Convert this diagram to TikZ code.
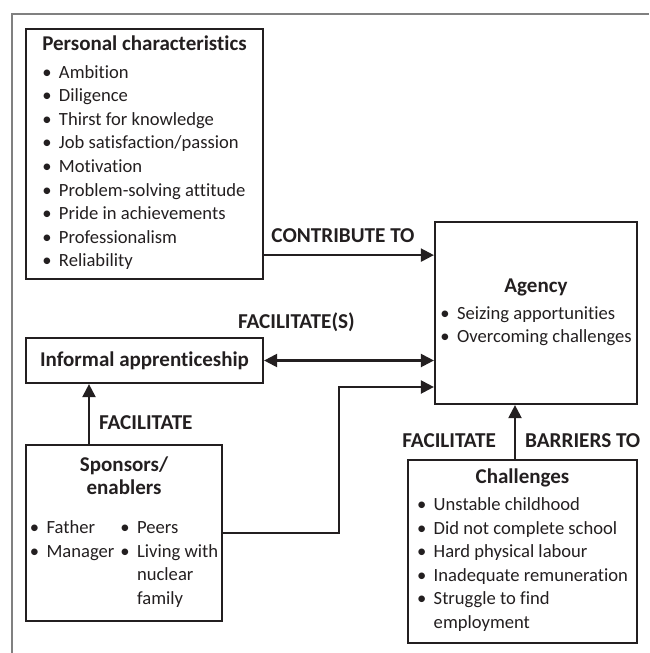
\documentclass[tikz,border=0pt]{standalone}
\usepackage{fontspec}
\setmainfont{Carlito}[Ligatures=NoCommon]
\usepackage{tikz}
\usetikzlibrary{arrows.meta,positioning}
\usepackage{xcolor}
\definecolor{inkdark}{RGB}{35,31,32}
\definecolor{framegray}{RGB}{128,128,128}
\tikzstyle{arrow} = [line width=2.2pt,-{Triangle[length=13pt,width=13pt]},color=inkdark]
\tikzstyle{darrow} = [arrow,{Triangle[length=13pt,width=13pt]}-{Triangle[length=13pt,width=13pt]}]
\tikzstyle{factor} = [rectangle, draw=inkdark, line width=2.2pt, inner sep=0pt, text centered]
\tikzstyle{lbl} = [font=\fontsize{21.2}{23.6}\selectfont\bfseries, inner sep=0pt]
\newcommand{\bul}{\textbullet\hspace{0.4em}}
\newcommand{\hang}{\phantom{\textbullet\hspace{0.4em}}}
\newcommand{\head}[1]{{\fontsize{21}{23.6}\selectfont\bfseries #1}}

\begin{document}
\begin{tikzpicture}[x=1pt, y=-1pt, text=inkdark, font=\fontsize{18.6}{23.6}\selectfont]
\useasboundingbox (0,0) rectangle (649,653);
% Frame
\draw[framegray, line width=1.5pt] (12,653) -- (12,14) -- (649,14);

% Factors as nodes
\node (pc) [factor, minimum width=237pt, minimum height=250pt] at (144.5,154) {
\begin{tabular}{@{}l@{}}
\multicolumn{1}{@{}c@{}}{\head{Personal characteristics}}\\[4pt]
\bul Ambition\\
\bul Diligence\\
\bul Thirst for knowledge\\
\bul Job satisfaction/passion\\
\bul Motivation\\
\bul Problem-solving attitude\\
\bul Pride in achievements\\
\bul Professionalism\\
\bul Reliability
\end{tabular}
};

\node (ag) [factor, minimum width=202pt, minimum height=182pt] at (536,313) {
\begin{tabular}{@{}l@{}}
\multicolumn{1}{@{}c@{}}{\head{Agency}}\\[3pt]
\bul Seizing apportunities\\
\bul Overcoming challenges
\end{tabular}
};

\node (ia) [factor, minimum width=237pt, minimum height=45pt] at (144.5,360.5) {
\head{Informal apprenticeship}
};

\node (sp) [factor, minimum width=196pt, minimum height=176pt] at (124,533) {
\begin{tabular}{@{}l@{\hspace{6pt}}l@{}}
\multicolumn{2}{@{}c@{}}{\head{Sponsors/}}\\
\multicolumn{2}{@{}c@{}}{\head{enablers}}\\[15pt]
\bul Father & \bul Peers\\
\bul Manager & \bul Living with\\
 & \hang nuclear\\
 & \hang family
\end{tabular}
};

\node (ch) [factor, minimum width=229pt, minimum height=183pt] at (522.5,551.5) {
\begin{tabular}{@{}l@{}}
\multicolumn{1}{@{}c@{}}{\head{Challenges}}\\[3pt]
\bul Unstable childhood\\
\bul Did not complete school\\
\bul Hard physical labour\\
\bul Inadequate remuneration\\
\bul Struggle to find\\
\hang employment
\end{tabular}
};

% Arrows
\coordinate (c1) at ([yshift=25pt]pc.south east);
\draw[arrow] (c1) -- node[lbl, above=11pt, xshift=-6pt] {CONTRIBUTE TO} (c1 -| ag.west);
\draw[darrow] (ia.east) -- node[lbl, pos=0.19, yshift=38pt] {FACILITATE(S)} (ia.east -| ag.west);
\draw[arrow] (sp.east) -- ++(116,0) |- ([yshift=-74pt]ag.west);
\coordinate (c2) at ([xshift=-35pt]sp.north);
\draw[arrow] (c2) -- node[lbl, pos=0.35, right=9pt] {FACILITATE} (c2 |- ia.south);
\coordinate (c3) at ([xshift=-7.5pt]ch.north);
\draw[arrow] (c3) -- node[lbl, pos=0.34, left=18pt] {FACILITATE} node[lbl, pos=0.34, right=9pt] {BARRIERS TO} (c3 |- ag.south);
\end{tikzpicture}
\end{document}
